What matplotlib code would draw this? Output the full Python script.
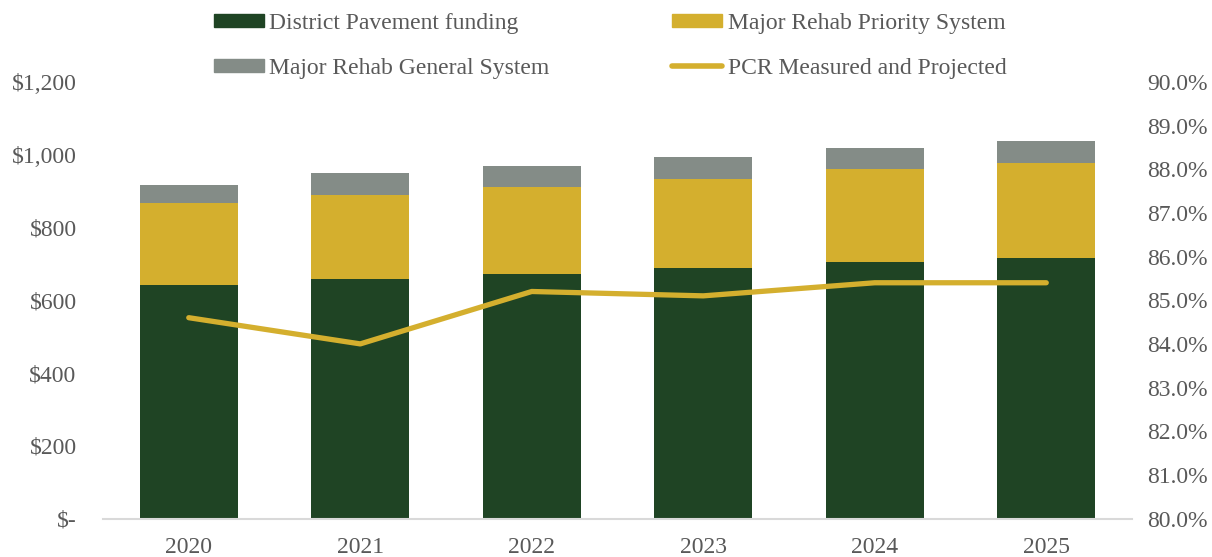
import matplotlib
matplotlib.use("Agg")
import matplotlib.pyplot as plt
from matplotlib.patches import Patch
from matplotlib.lines import Line2D
from matplotlib.ticker import FuncFormatter
import numpy as np

years = ["2020", "2021", "2022", "2023", "2024", "2025"]
district = [641, 659, 671, 689, 706, 717]
priority = [226, 230, 239, 245, 254, 259]
general = [50, 61, 59, 60, 59, 62]
pcr = [84.6, 84.0, 85.2, 85.1, 85.4, 85.4]

c_green = "#1F4424"
c_gold = "#D4AF2E"
c_gray = "#848C87"
tcol = "#595959"

plt.rcParams['font.family'] = ['Liberation Serif', 'DejaVu Serif']
FS = 17

fig = plt.figure(figsize=(12.12, 5.57), dpi=100)
ax = fig.add_axes([0.085, 0.069, 0.849, 0.784])
x = np.arange(len(years))
w = 0.57
ax.bar(x, district, w, color=c_green, zorder=2)
ax.bar(x, priority, w, bottom=district, color=c_gold, zorder=2)
bot2 = [a + b for a, b in zip(district, priority)]
ax.bar(x, general, w, bottom=bot2, color=c_gray, zorder=2)

ax.set_xlim(-0.5, len(years) - 0.5)
ax.set_ylim(0, 1200)
ax.set_yticks(range(0, 1201, 200))
ax.yaxis.set_major_formatter(FuncFormatter(lambda v, p: "$-" if v == 0 else f"${v:,.0f}"))
ax.set_xticks(x)
ax.set_xticklabels(years)
for s in ["top", "right", "left"]:
    ax.spines[s].set_visible(False)
ax.spines["bottom"].set_color("#D9D9D9")
ax.spines["bottom"].set_linewidth(1.5)
ax.tick_params(axis="both", length=0, labelsize=FS, colors=tcol)
ax.tick_params(axis="y", pad=19)
ax.tick_params(axis="x", pad=13)

ax2 = ax.twinx()
ax2.plot(x, pcr, color=c_gold, lw=3.8, solid_capstyle="round", solid_joinstyle="round", zorder=3)
ax2.set_ylim(80, 90)
ax2.set_yticks(np.arange(80, 90.01, 1))
ax2.yaxis.set_major_formatter(FuncFormatter(lambda v, p: f"{v:.1f}%"))
for s in ["top", "right", "left", "bottom"]:
    ax2.spines[s].set_visible(False)
ax2.tick_params(axis="y", length=0, labelsize=FS, colors=tcol, pad=11)

handles = [Patch(color=c_green), Patch(color=c_gray), Patch(color=c_gold),
           Line2D([0], [0], color=c_gold, lw=4, solid_capstyle="round")]
labels = ["District Pavement funding", "Major Rehab General System",
          "Major Rehab Priority System", "PCR Measured and Projected"]
leg = fig.legend(handles, labels, ncol=2, loc="upper left", bbox_to_anchor=(0.159, 1.0146),
                 frameon=False, fontsize=FS, handlelength=2.1, handleheight=0.45,
                 handletextpad=0.25, columnspacing=5.2, labelspacing=1.0)
for t in leg.get_texts():
    t.set_color(tcol)

fig.savefig("out.png", dpi=100)
